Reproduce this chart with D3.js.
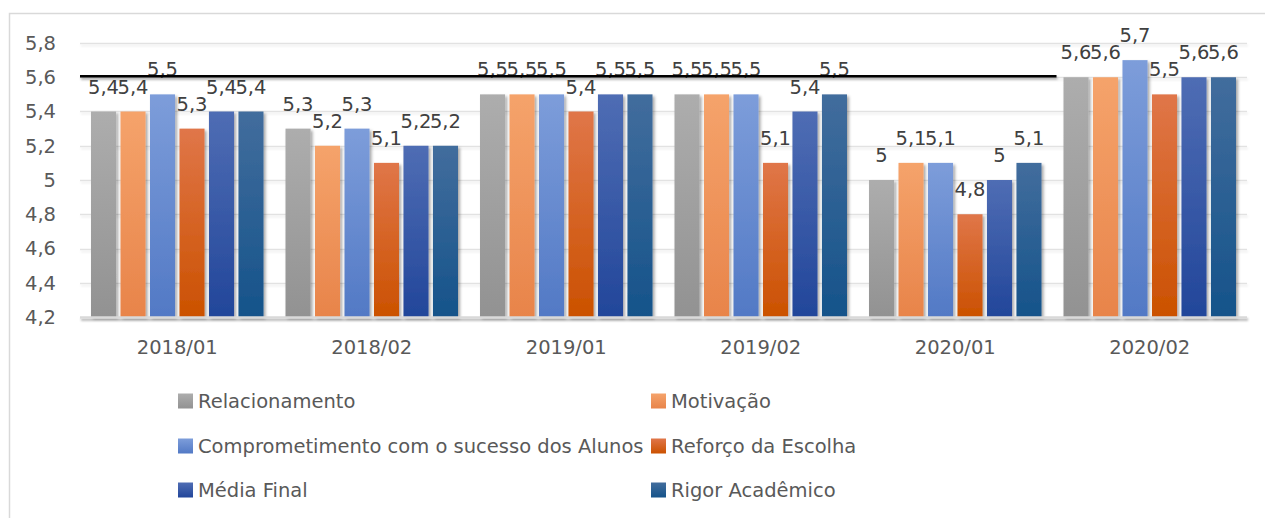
<!DOCTYPE html>
<html>
<head>
<meta charset="utf-8">
<script src="https://cdn.jsdelivr.net/npm/d3@7"></script>
<style>
	body { margin: 0; background: #fff; }
	svg { display: block; font-family: "DejaVu Sans", sans-serif; }
</style>
</head>
<body>
<svg id="chart" width="1265" height="518"></svg>
<script>
const categories = ['2018/01', '2018/02', '2019/01', '2019/02', '2020/01', '2020/02'];
const series = ['Relacionamento', 'Motivação', 'Comprometimento com o sucesso dos Alunos', 'Reforço da Escolha', 'Média Final', 'Rigor Acadêmico'];
const relacionamento = [5.4, 5.3, 5.5, 5.5, 5.0, 5.6];
const motivacao = [5.4, 5.2, 5.5, 5.5, 5.1, 5.6];
const comprometimento = [5.5, 5.3, 5.5, 5.5, 5.1, 5.7];
const reforco = [5.3, 5.1, 5.4, 5.1, 4.8, 5.5];
const mediaFinal = [5.4, 5.2, 5.5, 5.4, 5.0, 5.6];
const rigor = [5.4, 5.2, 5.5, 5.5, 5.1, 5.6];
const yTicks = [4.2, 4.4, 4.6, 4.8, 5, 5.2, 5.4, 5.6, 5.8];
const referenceValue = 5.6;

const values = [relacionamento, motivacao, comprometimento, reforco, mediaFinal, rigor];
// gradient stops: top, bottom
const gradients = [
	['#adadad', '#929292'],
	['#f5a36b', '#e8844a'],
	['#7d9dda', '#5279c5'],
	['#e07649', '#cb5100'],
	['#4f6db4', '#22469a'],
	['#426d9d', '#15538a']
];

const w = 1265;
const h = 518;
const plot = { left: 80, right: 1247, top: 43, bottom: 317 };
const fontSize = '19.5px';

const svg = d3.select('#chart');
const defs = svg.append('defs');

gradients.forEach((g, i) => {
	const grad = defs.append('linearGradient')
		.attr('id', 'grad' + i)
		.attr('x1', 0).attr('y1', 0).attr('x2', 0).attr('y2', 1);
	grad.append('stop').attr('offset', '0%').attr('stop-color', g[0]);
	grad.append('stop').attr('offset', '100%').attr('stop-color', g[1]);
});

const shadow = defs.append('filter')
	.attr('id', 'shadow')
	.attr('x', '-20%').attr('y', '-20%').attr('width', '160%').attr('height', '140%');
shadow.append('feDropShadow')
	.attr('dx', 2).attr('dy', 2).attr('stdDeviation', 1.8)
	.attr('flood-color', '#000').attr('flood-opacity', 0.35);

// lines have a zero-height box, so their shadow needs user space units
const lineShadow = (id, opacity) => {
	defs.append('filter')
		.attr('id', id)
		.attr('filterUnits', 'userSpaceOnUse')
		.attr('x', 0).attr('y', 0).attr('width', w).attr('height', h)
		.append('feDropShadow')
		.attr('dx', 1).attr('dy', 2).attr('stdDeviation', 1.2)
		.attr('flood-color', '#000').attr('flood-opacity', opacity);
};
lineShadow('gridShadow', 0.08);
lineShadow('lineShadow', 0.3);

const fmt = d => String(+d.toFixed(1)).replace('.', ',');

const xScale = d3.scaleBand()
	.domain(categories)
	.range([plot.left, plot.right]);
const innerScale = d3.scaleBand()
	.domain(d3.range(series.length))
	.range([11, xScale.bandwidth() - 11])
	.paddingInner(0.15);
const yScale = d3.scaleLinear()
	.domain([4.2, 5.8])
	.range([plot.bottom, plot.top]);

// chart border
svg.append('rect')
	.attr('x', 9.5).attr('y', 13.5)
	.attr('width', w).attr('height', h)
	.attr('fill', 'none')
	.attr('stroke', '#d9d9d9')
	.attr('stroke-width', 1.5);

// gridlines
svg.append('g')
	.selectAll('line')
	.data(yTicks.slice(1))
	.enter()
	.append('line')
	.attr('x1', plot.left).attr('x2', plot.right)
	.attr('y1', d => Math.round(yScale(d)) + 0.5)
	.attr('y2', d => Math.round(yScale(d)) + 0.5)
	.attr('stroke', '#e2e2e2')
	.attr('stroke-width', 1.5)
	.attr('filter', 'url(#gridShadow)');

// y axis labels
const yAxis = d3.axisLeft(yScale)
	.tickValues(yTicks)
	.tickFormat(fmt)
	.tickSize(0)
	.tickPadding(24);
svg.append('g')
	.attr('transform', 'translate(' + plot.left + ',0)')
	.call(yAxis)
	.call(g => g.select('.domain').remove())
	.selectAll('text')
	.attr('fill', '#595959')
	.style('font-size', fontSize)
	.style('font-family', '"DejaVu Sans", sans-serif');

// bars
const groups = svg.append('g')
	.selectAll('g')
	.data(categories)
	.enter()
	.append('g')
	.attr('transform', d => 'translate(' + xScale(d) + ',0)');

groups.selectAll('rect')
	.data((d, ci) => values.map((v, si) => ({ si, value: v[ci] })))
	.enter()
	.append('rect')
	.attr('x', d => innerScale(d.si))
	.attr('y', d => yScale(d.value))
	.attr('width', innerScale.bandwidth())
	.attr('height', d => yScale(4.2) - yScale(d.value))
	.attr('fill', d => 'url(#grad' + d.si + ')')
	.attr('filter', 'url(#shadow)');

// x axis line
svg.append('line')
	.attr('x1', plot.left).attr('x2', plot.right)
	.attr('y1', yScale(4.2) + 0.5).attr('y2', yScale(4.2) + 0.5)
	.attr('stroke', '#d9d9d9')
	.attr('stroke-width', 2.5)
	.attr('filter', 'url(#lineShadow)');

// reference line at 5,6
svg.append('line')
	.attr('x1', plot.left)
	.attr('x2', xScale(categories[5]) + 4)
	.attr('y1', yScale(referenceValue) - 1)
	.attr('y2', yScale(referenceValue) - 1)
	.attr('stroke', '#000')
	.attr('stroke-width', 2.5)
	.attr('filter', 'url(#lineShadow)');

// data labels
groups.selectAll('text')
	.data((d, ci) => values.map((v, si) => ({ si, value: v[ci] })))
	.enter()
	.append('text')
	.attr('x', d => innerScale(d.si) + innerScale.bandwidth() / 2)
	.attr('y', d => yScale(d.value) - 18)
	.attr('text-anchor', 'middle')
	.attr('fill', '#404040')
	.style('font-size', fontSize)
	.text(d => fmt(d.value));

// x axis labels
svg.append('g')
	.selectAll('text')
	.data(categories)
	.enter()
	.append('text')
	.attr('x', d => xScale(d) + xScale.bandwidth() / 2)
	.attr('y', plot.bottom + 37)
	.attr('text-anchor', 'middle')
	.attr('fill', '#595959')
	.style('font-size', fontSize)
	.text(d => d);

// legend
const legendCols = [178, 651];
const legendRows = [401, 446, 490];
const legend = svg.append('g')
	.selectAll('g')
	.data(series)
	.enter()
	.append('g')
	.attr('transform', (d, i) => 'translate(' + legendCols[i % 2] + ',' + legendRows[Math.floor(i / 2)] + ')');

legend.append('rect')
	.attr('x', 0).attr('y', -7.5)
	.attr('width', 15).attr('height', 15)
	.attr('fill', (d, i) => 'url(#grad' + i + ')');

legend.append('text')
	.attr('x', 20)
	.attr('y', 0)
	.attr('dy', '0.35em')
	.attr('fill', '#595959')
	.style('font-size', fontSize)
	.text(d => d);
</script>
</body>
</html>
